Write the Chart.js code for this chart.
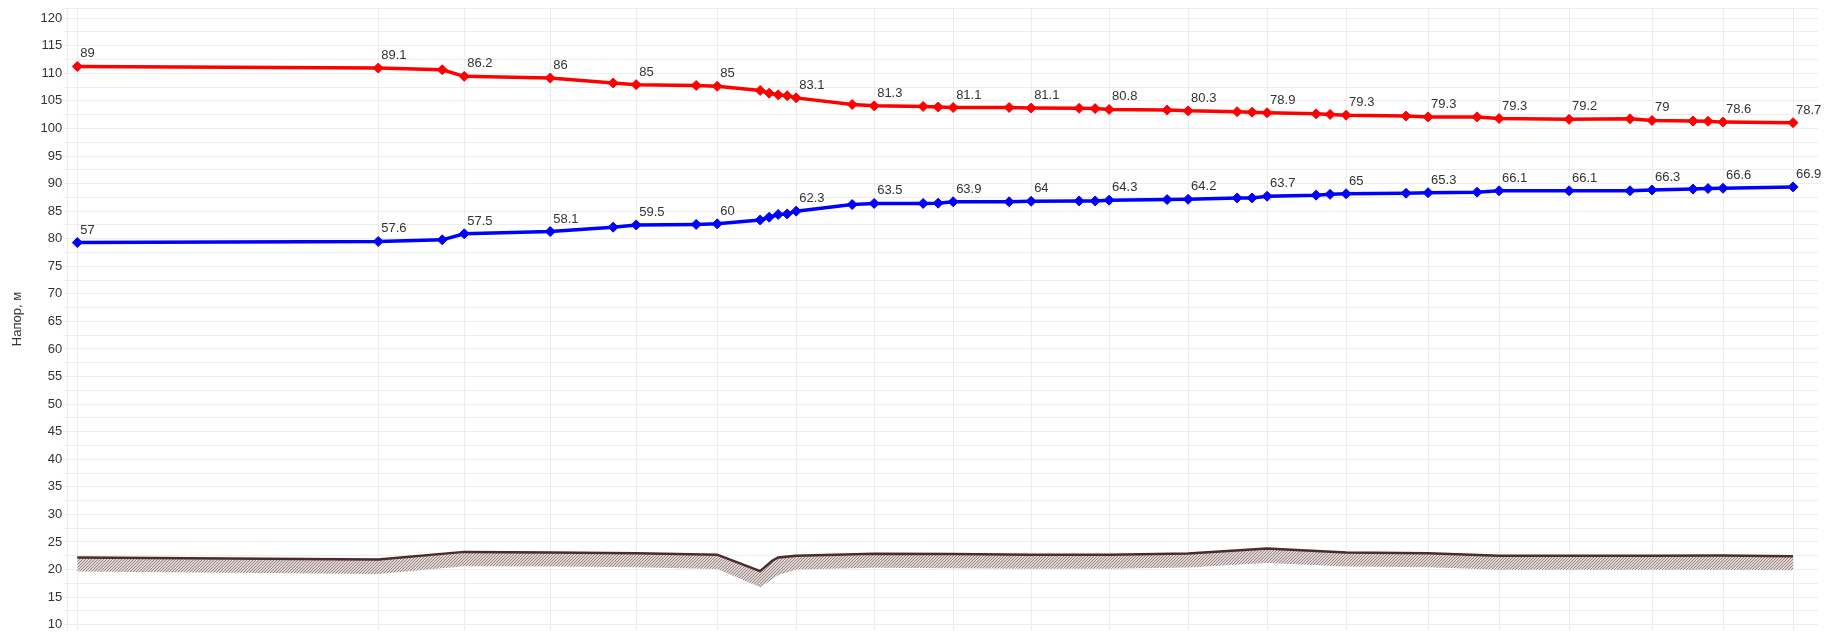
<!DOCTYPE html>
<html>
<head>
<meta charset="utf-8">
<script src="https://cdn.jsdelivr.net/npm/chart.js@4"></script>
<style>
  html, body { margin: 0; padding: 0; background: #fff; }
  #wrap { width: 1825px; height: 636px; position: relative; }
</style>
</head>
<body>
<div id="wrap"><canvas id="profile"></canvas></div>
<script>
// Distance along the pipe for each node
const distance = [0, 301, 365, 387, 473, 536, 559, 619, 640, 683, 692, 701, 710, 719, 775, 797, 846, 861, 876, 932,
  954, 1002, 1018, 1032, 1090, 1111, 1160, 1175, 1190, 1239, 1253, 1269, 1329, 1351, 1400, 1422, 1492, 1553, 1575,
  1616, 1631, 1646, 1716]

// Head line, supply (red) and return (blue)
const headSupply = [111.25, 110.95, 110.65, 109.45, 109.15, 108.25, 107.95, 107.8, 107.65, 106.9, 106.4, 106.1,
  105.95, 105.55, 104.35, 104.1, 104.0, 103.9, 103.8, 103.8, 103.7, 103.65, 103.6, 103.45, 103.35, 103.2, 103.05,
  102.95, 102.85, 102.65, 102.55, 102.4, 102.25, 102.1, 102.1, 101.8, 101.65, 101.75, 101.45, 101.35, 101.3,
  101.15, 101.05]
const headReturn = [79.3, 79.5, 79.8, 80.9, 81.3, 82.1, 82.5, 82.6, 82.7, 83.4, 83.9, 84.4, 84.5, 85.0, 86.2, 86.4,
  86.4, 86.45, 86.7, 86.7, 86.8, 86.85, 86.85, 87.0, 87.1, 87.15, 87.4, 87.4, 87.7, 87.9, 88.05, 88.15, 88.25,
  88.35, 88.45, 88.7, 88.7, 88.7, 88.85, 89.0, 89.1, 89.15, 89.4]

// Piezometric labels shown at some nodes (null = no label)
const labelSupply = ['89', '89.1', null, '86.2', '86', null, '85', null, '85', null, null, null, null, '83.1', null,
  '81.3', null, null, '81.1', null, '81.1', null, null, '80.8', null, '80.3', null, null, '78.9', null, null, '79.3',
  null, '79.3', null, '79.3', '79.2', null, '79', null, null, '78.6', '78.7']
const labelReturn = ['57', '57.6', null, '57.5', '58.1', null, '59.5', null, '60', null, null, null, null, '62.3', null,
  '63.5', null, null, '63.9', null, '64', null, null, '64.3', null, '64.2', null, null, '63.7', null, null, '65',
  null, '65.3', null, '66.1', '66.1', null, '66.3', null, null, '66.6', '66.9']

// Ground profile and the lower edge of its hatched band
const groundDist = [0, 301, 387, 473, 559, 640, 683, 695, 701, 719, 797, 876, 954, 1032, 1111, 1190, 1269, 1351,
  1422, 1492, 1575, 1646, 1716]
const groundLevel = [22.2, 21.8, 23.2, 23.1, 22.95, 22.7, 19.7, 21.6, 22.2, 22.5, 22.85, 22.8, 22.7, 22.7, 22.9,
  23.8, 23.1, 22.95, 22.5, 22.5, 22.5, 22.55, 22.4]
const groundBase = [19.65, 19.2, 20.6, 20.55, 20.4, 20.1, 16.8, 18.2, 19.0, 20.0, 20.3, 20.25, 20.15, 20.15, 20.35,
  21.2, 20.55, 20.4, 19.95, 19.95, 19.95, 19.95, 19.85]

// y ticks, labelled every 5
const yTicks = [10, 12.5, 15, 17.5, 20, 22.5, 25, 27.5, 30, 32.5, 35, 37.5, 40, 42.5, 45, 47.5, 50, 52.5, 55, 57.5,
  60, 62.5, 65, 67.5, 70, 72.5, 75, 77.5, 80, 82.5, 85, 87.5, 90, 92.5, 95, 97.5, 100, 102.5, 105, 107.5, 110,
  112.5, 115, 117.5, 120]

const toPoints = (xs, ys) => xs.map((x, i) => ({ x: x, y: ys[i] }))

// Fine hatch pattern for the ground band (pixel exact, 3px period)
let hatch = document.createElement('canvas')
hatch.width = 3
hatch.height = 3
let hctx = hatch.getContext('2d')
hctx.fillStyle = '#ddd3d3'
hctx.fillRect(0, 0, 3, 3)
hctx.fillStyle = '#9c8888'
hctx.fillRect(2, 0, 1, 1)
hctx.fillRect(1, 1, 1, 1)
hctx.fillRect(0, 2, 1, 1)
let hatchPattern = document.getElementById('profile').getContext('2d').createPattern(hatch, 'repeat')

// Draw the small labels above the marked nodes
const nodeLabels = {
  id: 'nodeLabels',
  afterDatasetsDraw(chart) {
    let ctx = chart.ctx
    ctx.save()
    ctx.font = '13px "Liberation Sans", Arial, sans-serif'
    ctx.fillStyle = '#333'
    ctx.textAlign = 'left'
    ctx.textBaseline = 'alphabetic'
    ;[[0, labelSupply], [1, labelReturn]].forEach(([idx, texts]) => {
      chart.getDatasetMeta(idx).data.forEach((pt, i) => {
        if (texts[i] !== null) ctx.fillText(texts[i], pt.x + 3, pt.y - 9)
      })
    })
    ctx.restore()
  }
}

const gridColor = '#ededed'

new Chart(document.getElementById('profile'), {
  type: 'line',
  data: {
    datasets: [
      {
        data: toPoints(distance, headSupply),
        borderColor: '#ff0000',
        backgroundColor: '#ff0000',
        borderWidth: 3.5,
        pointStyle: 'rectRot',
        pointRadius: 5,
        pointBorderWidth: 1,
        fill: false
      },
      {
        data: toPoints(distance, headReturn),
        borderColor: '#0000ff',
        backgroundColor: '#0000ff',
        borderWidth: 3.5,
        pointStyle: 'rectRot',
        pointRadius: 5,
        pointBorderWidth: 1,
        fill: false
      },
      {
        data: toPoints(groundDist, groundLevel),
        borderColor: '#4b2b2b',
        borderWidth: 2.5,
        pointRadius: 0,
        fill: false
      },
      {
        data: toPoints(groundDist, groundBase),
        borderWidth: 0,
        borderColor: 'rgba(0,0,0,0)',
        backgroundColor: hatchPattern,
        pointRadius: 0,
        fill: 2
      }
    ]
  },
  options: {
    responsive: true,
    maintainAspectRatio: false,
    animation: false,
    devicePixelRatio: 1,
    layout: { padding: { top: 8, right: 7, bottom: 0, left: 0 } },
    plugins: {
      legend: { display: false },
      tooltip: { enabled: false }
    },
    scales: {
      x: {
        type: 'linear',
        min: -10,
        max: 1741,
        afterBuildTicks: (scale) => {
          let marked = distance.filter((d, i) => labelSupply[i] !== null)
          scale.ticks = [-10].concat(marked).map((v) => ({ value: v }))
        },
        ticks: { display: false },
        grid: { color: gridColor, drawTicks: false },
        border: { display: false }
      },
      y: {
        min: 9.03,
        max: 121.85,
        afterBuildTicks: (scale) => {
          scale.ticks = yTicks.concat([121.85]).map((v) => ({ value: v }))
        },
        ticks: {
          padding: 1,
          color: '#333',
          font: { family: '"Liberation Sans", Arial, sans-serif', size: 13, lineHeight: 0.3 },
          callback: (v) => (v % 5 === 0 && v <= 120 ? v : '')
        },
        grid: { color: gridColor, tickLength: 4 },
        border: { color: gridColor },
        title: {
          display: true,
          text: 'Напор, м',
          color: '#333',
          font: { family: '"Liberation Sans", Arial, sans-serif', size: 13 },
          padding: { top: 10, bottom: 14 }
        }
      }
    }
  },
  plugins: [nodeLabels]
})
</script>
</body>
</html>
